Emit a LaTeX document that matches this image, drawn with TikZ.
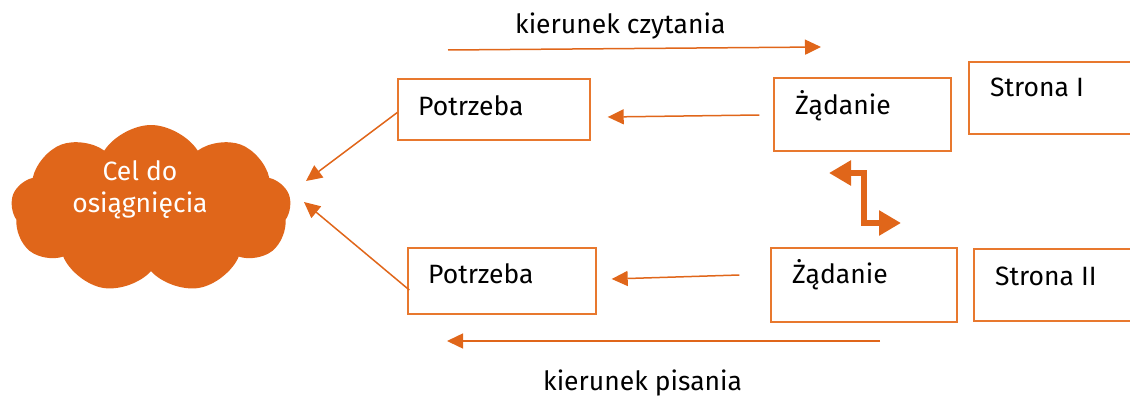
\documentclass[tikz,border=0pt]{standalone}
\usepackage{fontspec}
\setmainfont{Fira Sans}
\usetikzlibrary{arrows.meta,shapes.symbols,calc}
\definecolor{accent}{HTML}{E0661A}
\definecolor{edge}{HTML}{E8782E}
\begin{document}
\begin{tikzpicture}[x=1pt,y=-1pt,
  font=\fontsize{26.5}{30}\selectfont,
  box/.style={draw=edge, line width=1.4pt, inner sep=0pt, rectangle},
  txt/.style={anchor=base west, inner sep=0pt, text=black},
  arr/.style={draw=accent, line width=1.5pt, -{Triangle[length=16pt,width=15pt]}},
  zarr/.style={draw=accent, line width=6pt, miter limit=10,
    {Triangle[length=22pt,width=24pt]}-{Triangle[length=22pt,width=24pt]}}]
\useasboundingbox (0,0) rectangle (1130,396);

% goal cloud
\node[cloud, cloud puffs=9, cloud puff arc=115, fill=accent, draw=none,
  minimum width=280pt, minimum height=168pt, inner sep=0pt] (cel) at (151,209) {};
\node[text=white, align=center, inner sep=0pt, anchor=base] (celt) at (140,212)
  {Cel do\\[2pt]osiągnięcia};

% side I
\node[box, minimum width=192pt, minimum height=61pt] (p1) at (494,109.5) {};
\node[box, minimum width=177pt, minimum height=73pt] (z1) at (862.5,114.5) {};
\node[box, minimum width=171pt, minimum height=72pt] (s1) at (1054.5,98) {};
\node[txt] (p1t) at (418,115) {Potrzeba};
\node[txt] (z1t) at (795,114) {Żądanie};
\node[txt] (s1t) at (990,96) {Strona I};

% side II
\node[box, minimum width=188pt, minimum height=66pt] (p2) at (502,281) {};
\node[box, minimum width=186pt, minimum height=74pt] (z2) at (864,285) {};
\node[box, minimum width=166pt, minimum height=72pt] (s2) at (1057,285) {};
\node[txt] (p2t) at (428,283) {Potrzeba};
\node[txt] (z2t) at (792,283) {Żądanie};
\node[txt] (s2t) at (995,285) {Strona II};

% direction arrows
\coordinate (rs) at (448,50);
\coordinate (re) at (821,47);
\draw[arr] (rs) -- (re);
\node[txt] (rl) at (515,34) {kierunek czytania};
\coordinate (ws) at (880,341);
\coordinate (we) at (447,341);
\draw[arr] (ws) -- (we);
\node[txt] (wl) at (543,390) {kierunek pisania};

% requests lead to needs
\draw[arr] ($(z1.west)+(-14,0.5)$) -- ($(p1.east)+(17,7.5)$);
\draw[arr] ($(z2.west)+(-31,-10)$) -- ($(p2.east)+(15,-2)$);

% needs lead to the goal
\coordinate (c1) at (306,181);
\coordinate (c2) at (304,202);
\draw[arr] ($(p1.west)+(0,3)$) -- (c1);
\draw[arr] ($(p2.west)+(2,9)$) -- (c2);

% exchange between the two sides
\coordinate (xa) at (829,173);
\coordinate (xb) at (901,223);
\draw[zarr] (xa) -- (864,173) -- (864,223) -- (xb);
\end{tikzpicture}
\end{document}
